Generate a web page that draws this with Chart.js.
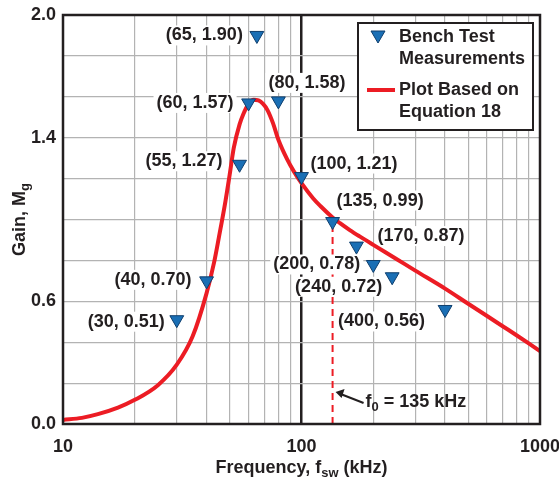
<!DOCTYPE html>
<html lang="en">
<head>
<meta charset="UTF-8">
<script src="https://cdn.jsdelivr.net/npm/chart.js"></script>
<title>Gain vs Frequency</title>
<style>
    * { margin: 0px; padding: 0px; }
    body { background: #fff; }
</style>
</head>
<body>
<canvas id="myChart" width="559" height="483"></canvas>
<script>
// ---- data ----
const freqTicks = [10, 20, 30, 40, 50, 60, 70, 80, 90, 100, 200, 300, 400, 500, 600, 700, 800, 900, 1000];
const freqLabels = [10, 100, 1000];
const gainLabels = [0.0, 0.6, 1.4, 2.0];

const benchFreq = [30, 40, 55, 60, 65, 80, 100, 135, 170, 200, 240, 400];
const benchGain = [0.51, 0.70, 1.27, 1.57, 1.90, 1.58, 1.21, 0.99, 0.87, 0.78, 0.72, 0.56];

const curveFreq = [10, 12, 14, 17, 20, 25, 30, 35, 40, 43, 45, 48, 50, 52, 55, 57, 60, 63, 66, 69, 72, 76, 80, 87, 93, 100, 112, 120, 135, 145, 160, 176, 200, 250, 300, 400, 500, 600, 700, 800, 900, 1000];
const curveGain = [0.02, 0.03, 0.048, 0.08, 0.118, 0.19, 0.29, 0.43, 0.64, 0.79, 0.91, 1.09, 1.22, 1.35, 1.465, 1.515, 1.565, 1.585, 1.582, 1.565, 1.535, 1.47, 1.39, 1.295, 1.234, 1.178, 1.103, 1.066, 1.010, 0.982, 0.947, 0.916, 0.876, 0.807, 0.750, 0.662, 0.588, 0.528, 0.477, 0.433, 0.393, 0.356];

const f0 = 135;
const f0Gain = 1.0;

// label placement next to each marker: [dx, dy, align]
const labelOffsets = [
    [-12, 2, 'right'], [-15, -1, 'right'], [-17, -3, 'right'], [-15, 0, 'right'],
    [-14, 0, 'right'], [-10, -18, 'left'], [9, -13, 'left'], [4, -21, 'left'],
    [21, -10, 'left'], [-13, 0, 'right'], [-10, 10, 'right'], [-20, 12, 'right']
];

const FONT = "'Liberation Sans', Arial, sans-serif";
const TXT = '#231f20';
const RED = '#ec1c24';
const BLUE = '#1a6fb5';

function richText(ctx, parts, x, y, align, size) {
    // parts: [text, isSub]
    let w = 0;
    parts.forEach(p => {
        ctx.font = 'bold ' + (p[1] ? size * 0.72 : size) + 'px ' + FONT;
        w += ctx.measureText(p[0]).width;
    });
    let cx = align === 'center' ? x - w / 2 : (align === 'right' ? x - w : x);
    ctx.textAlign = 'left';
    ctx.textBaseline = 'middle';
    parts.forEach(p => {
        ctx.font = 'bold ' + (p[1] ? size * 0.72 : size) + 'px ' + FONT;
        ctx.fillText(p[0], cx, p[1] ? y + size * 0.3 : y);
        cx += ctx.measureText(p[0]).width;
    });
}

const decor = {
    id: 'decor',
    beforeDatasetsDraw(chart) {
        const ctx = chart.ctx;
        const x = chart.scales.x, y = chart.scales.y;
        // f0 marker line
        ctx.save();
        ctx.strokeStyle = RED;
        ctx.lineWidth = 2;
        ctx.setLineDash([7, 5]);
        ctx.beginPath();
        ctx.moveTo(x.getPixelForValue(f0), y.getPixelForValue(0));
        ctx.lineTo(x.getPixelForValue(f0), y.getPixelForValue(f0Gain));
        ctx.stroke();
        ctx.restore();

        // point labels on white
        ctx.save();
        ctx.font = 'bold 18px ' + FONT;
        ctx.textBaseline = 'middle';
        benchFreq.forEach((f, i) => {
            const txt = '(' + f + ', ' + benchGain[i].toFixed(2) + ')';
            const o = labelOffsets[i];
            const px = x.getPixelForValue(f) + o[0];
            const py = y.getPixelForValue(benchGain[i]) + o[1];
            const w = ctx.measureText(txt).width;
            const left = o[2] === 'right' ? px - w : px;
            ctx.fillStyle = '#fff';
            ctx.fillRect(left - 3, py - 10, w + 6, 20);
            ctx.fillStyle = TXT;
            ctx.textAlign = o[2];
            ctx.fillText(txt, px, py);
        });
        ctx.restore();
    },
    afterDraw(chart) {
        const ctx = chart.ctx;
        const a = chart.chartArea;
        const x = chart.scales.x, y = chart.scales.y;
        ctx.save();
        // plot frame
        ctx.strokeStyle = TXT;
        ctx.lineWidth = 2.5;
        ctx.strokeRect(a.left, a.top, a.right - a.left, a.bottom - a.top);

        // f0 annotation
        const x0 = x.getPixelForValue(f0), y0 = y.getPixelForValue(0);
        ctx.strokeStyle = TXT;
        ctx.fillStyle = TXT;
        ctx.lineWidth = 2;
        ctx.beginPath();
        ctx.moveTo(x0 + 31, y0 - 21);
        ctx.lineTo(x0 + 8, y0 - 30);
        ctx.stroke();
        ctx.beginPath();
        ctx.moveTo(x0 + 3, y0 - 32);
        ctx.lineTo(x0 + 12, y0 - 35);
        ctx.lineTo(x0 + 9, y0 - 26);
        ctx.closePath();
        ctx.fill();
        richText(ctx, [['f', false], ['0', true], [' = 135 kHz', false]], x0 + 33, y0 - 22, 'left', 18);

        // legend
        const lx = a.right - 182, ly = a.top + 8;
        ctx.fillStyle = '#fff';
        ctx.fillRect(lx, ly, 175, 107);
        ctx.strokeStyle = TXT;
        ctx.lineWidth = 2;
        ctx.strokeRect(lx, ly, 175, 107);
        ctx.fillStyle = BLUE;
        ctx.strokeStyle = '#0f3f6e';
        ctx.lineWidth = 1;
        ctx.beginPath();
        ctx.moveTo(lx + 13, ly + 8);
        ctx.lineTo(lx + 27, ly + 8);
        ctx.lineTo(lx + 20, ly + 20);
        ctx.closePath();
        ctx.fill();
        ctx.stroke();
        ctx.strokeStyle = RED;
        ctx.lineWidth = 4;
        ctx.beginPath();
        ctx.moveTo(lx + 9, ly + 67);
        ctx.lineTo(lx + 37, ly + 67);
        ctx.stroke();
        ctx.fillStyle = TXT;
        ctx.font = 'bold 18px ' + FONT;
        ctx.textAlign = 'left';
        ctx.textBaseline = 'middle';
        ctx.fillText('Bench Test', lx + 41, ly + 14);
        ctx.fillText('Measurements', lx + 41, ly + 36);
        ctx.fillText('Plot Based on', lx + 41, ly + 67);
        ctx.fillText('Equation 18', lx + 41, ly + 89);

        // axis titles
        ctx.fillStyle = TXT;
        richText(ctx, [['Frequency, f', false], ['sw', true], [' (kHz)', false]], (a.left + a.right) / 2, 468, 'center', 18);
        ctx.translate(20, (a.top + a.bottom) / 2);
        ctx.rotate(-Math.PI / 2);
        richText(ctx, [['Gain, M', false], ['g', true]], 0, 0, 'center', 18);
        ctx.restore();
    }
};

const ctx = document.getElementById('myChart').getContext('2d');
const myChart = new Chart(ctx, {
    type: 'scatter',
    data: {
        datasets: [{
            label: 'Plot Based on Equation 18',
            data: curveFreq.map((f, i) => ({ x: f, y: curveGain[i] })),
            showLine: true,
            borderColor: RED,
            borderWidth: 4,
            pointRadius: 0,
            cubicInterpolationMode: 'monotone',
            order: 2
        }, {
            label: 'Bench Test Measurements',
            data: benchFreq.map((f, i) => ({ x: f, y: benchGain[i] })),
            showLine: false,
            pointStyle: 'triangle',
            rotation: 180,
            radius: 8,
            backgroundColor: BLUE,
            borderColor: '#0f3f6e',
            borderWidth: 1,
            order: 1
        }]
    },
    options: {
        responsive: false,
        animation: false,
        layout: { padding: { top: 15, right: 19, left: 0, bottom: 0 } },
        plugins: {
            legend: { display: false },
            tooltip: { enabled: false }
        },
        scales: {
            x: {
                type: 'logarithmic',
                min: 10,
                max: 1000,
                afterBuildTicks: s => { s.ticks = freqTicks.map(v => ({ value: v })); },
                afterFit: s => { s.height = 59; s.paddingLeft = 0; s.paddingRight = 0; },
                grid: {
                    color: c => (c.tick && c.tick.value === 100) ? TXT : '#b3b3b3',
                    lineWidth: c => (c.tick && c.tick.value === 100) ? 2.5 : 1.2,
                    drawTicks: false
                },
                border: { display: false },
                ticks: {
                    autoSkip: false,
                    maxRotation: 0,
                    padding: 12,
                    color: TXT,
                    font: { family: FONT, size: 18, weight: 'bold' },
                    callback: v => freqLabels.includes(v) ? String(v) : ''
                }
            },
            y: {
                min: 0,
                max: 2,
                afterFit: s => { s.width = 63; s.paddingTop = 0; s.paddingBottom = 0; },
                grid: { color: '#b3b3b3', lineWidth: 1.2, drawTicks: false },
                border: { display: false },
                ticks: {
                    stepSize: 0.2,
                    padding: 7,
                    color: TXT,
                    font: { family: FONT, size: 18, weight: 'bold' },
                    callback: v => gainLabels.some(g => Math.abs(g - v) < 1e-6) ? v.toFixed(1) : ''
                }
            }
        }
    },
    plugins: [decor]
});
</script>
</body>
</html>
